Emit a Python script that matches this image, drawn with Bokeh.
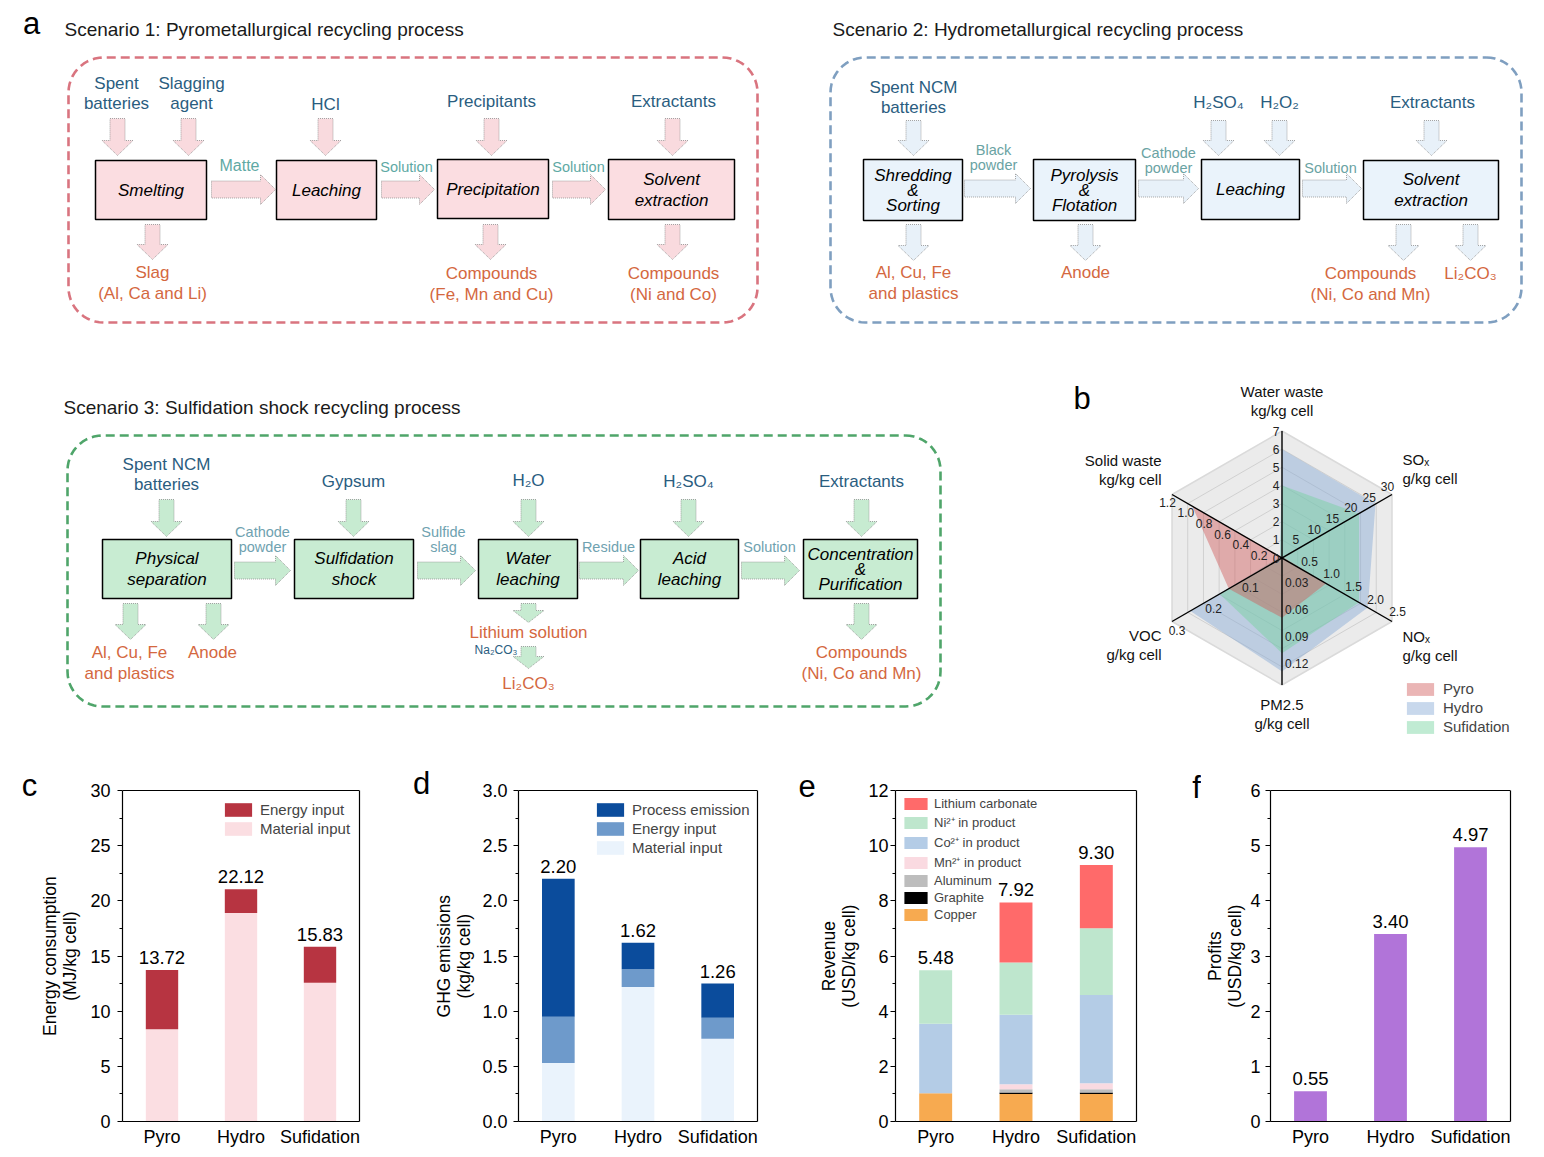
import numpy as np
from bokeh.plotting import figure
from bokeh.layouts import column, row
from bokeh.models import (Range1d, Legend, LegendItem, LinearAxis,
                          ColumnDataSource, FixedTicker, PrintfTickFormatter)
from bokeh.core.properties import value
from bokeh.embed import file_html
from bokeh.resources import INLINE

FONT = "Liberation Sans"

# ------------------------------------------------------------------ data
categories = ["Pyro", "Hydro", "Sufidation"]

# (c) energy consumption (MJ/kg cell)
energy_material = [8.37, 18.90, 12.57]
energy_energy = [5.35, 2.16, 3.26]
energy_labels = ["13.72", "22.12", "15.83"]

# (d) GHG emissions (kg/kg cell)
ghg_material = [0.53, 1.22, 0.75]
ghg_energy = [0.42, 0.16, 0.19]
ghg_process = [1.25, 0.24, 0.31]
ghg_labels = ["2.20", "1.62", "1.26"]

# (e) revenue (USD/kg cell)
rev_copper = [1.02, 1.00, 1.00]
rev_graphite = [0.00, 0.05, 0.05]
rev_aluminum = [0.00, 0.12, 0.12]
rev_mn = [0.00, 0.18, 0.22]
rev_co = [2.52, 2.52, 3.20]
rev_ni = [1.94, 1.89, 2.42]
rev_li = [0.00, 2.18, 2.29]
rev_labels = ["5.48", "7.92", "9.30"]

# (f) profits (USD/kg cell)
profits = [0.55, 3.40, 4.97]
profit_labels = ["0.55", "3.40", "4.97"]

# (b) radar
radar_names = ["Water waste", "SOₓ", "NOₓ", "PM2.5", "VOC", "Solid waste"]
radar_units = ["kg/kg cell", "g/kg cell", "g/kg cell", "g/kg cell", "g/kg cell", "kg/kg cell"]
radar_max = [7, 30, 2.5, 0.14, 0.3, 1.2]
radar_ticks = [[0, 1, 2, 3, 4, 5, 6, 7], [5, 10, 15, 20, 25, 30],
               [0.5, 1.0, 1.5, 2.0, 2.5], [0.03, 0.06, 0.09, 0.12],
               [0.1, 0.2, 0.3], [0.2, 0.4, 0.6, 0.8, 1.0, 1.2]]
radar_tick_text = [["0", "1", "2", "3", "4", "5", "6", "7"], ["5", "10", "15", "20", "25", "30"],
                   ["0.5", "1.0", "1.5", "2.0", "2.5"], ["0.03", "0.06", "0.09", "0.12"],
                   ["0.1", "0.2", "0.3"], ["0.2", "0.4", "0.6", "0.8", "1.0", "1.2"]]
env_pyro = [0.05, 0.3, 1.0, 0.066, 0.145, 0.98]
env_hydro = [6.0, 25.5, 1.95, 0.125, 0.25, 0.02]
env_sulf = [4.0, 21.0, 1.75, 0.105, 0.17, 0.02]

# (a) process diagrams - texts
s1_title = "Scenario 1: Pyrometallurgical recycling process"
s1_inputs = ["Spent\nbatteries", "Slagging\nagent", "HCl", "Precipitants", "Extractants"]
s1_steps = ["Smelting", "Leaching", "Precipitation", "Solvent\nextraction"]
s1_flows = ["Matte", "Solution", "Solution"]
s1_outputs = ["Slag\n(Al, Ca and Li)", "Compounds\n(Fe, Mn and Cu)", "Compounds\n(Ni and Co)"]

s2_title = "Scenario 2: Hydrometallurgical recycling process"
s2_inputs = ["Spent NCM\nbatteries", "H₂SO₄", "H₂O₂", "Extractants"]
s2_steps = ["Shredding\n&\nSorting", "Pyrolysis\n&\nFlotation", "Leaching", "Solvent\nextraction"]
s2_flows = ["Black\npowder", "Cathode\npowder", "Solution"]
s2_outputs = ["Al, Cu, Fe\nand plastics", "Anode", "Compounds\n(Ni, Co and Mn)", "Li₂CO₃"]

s3_title = "Scenario 3: Sulfidation shock recycling process"
s3_inputs = ["Spent NCM\nbatteries", "Gypsum", "H₂O", "H₂SO₄", "Extractants"]
s3_steps = ["Physical\nseparation", "Sulfidation\nshock", "Water\nleaching", "Acid\nleaching",
            "Concentration\n&\nPurification"]
s3_flows = ["Cathode\npowder", "Sulfide\nslag", "Residue", "Solution"]
s3_outputs = ["Al, Cu, Fe\nand plastics", "Anode", "Lithium solution", "Li₂CO₃",
              "Compounds\n(Ni, Co and Mn)"]
s3_side_input = "Na₂CO₃"

panel_letters = ["a", "b", "c", "d", "e", "f"]

# ------------------------------------------------------------------ layout (page pixels)
L1 = dict(frame=(68, 57, 757, 322), title=(64, 29),
          inputs=[(116, 103), (191, 103), (325, 104), (491, 101), (673, 101)],
          in_arrows=[(117, 118, 155), (188, 118, 155), (325, 118, 155), (491, 118, 155), (672, 118, 155)],
          boxes=[(95, 160, 206, 219), (276, 160, 376, 219), (437, 159, 548, 218), (608, 159, 734, 219)],
          flow_arrows=[(211, 275, 189), (381, 434, 189), (552, 605, 189)],
          flow_labels=[(239, 165, 16), (406, 166, 14.5), (578, 166, 14.5)],
          outputs=[(152, 272), (491, 273), (673, 273)],
          out_arrows=[(152, 224, 259), (490, 224, 259), (672, 224, 259)])
L2 = dict(frame=(830, 57, 1521, 322), title=(832, 29),
          inputs=[(913, 107), (1218, 102), (1279, 102), (1432, 102)],
          in_arrows=[(913, 120, 155), (1218, 120, 155), (1279, 120, 155), (1431, 120, 155)],
          boxes=[(863, 159, 962, 220), (1033, 159, 1135, 220), (1201, 159, 1299, 219), (1363, 160, 1498, 219)],
          flow_arrows=[(964, 1030, 188), (1138, 1198, 188), (1302, 1361, 188)],
          flow_labels=[(993, 164, 14.5), (1168, 167, 14.5), (1330, 167, 14.5)],
          outputs=[(913, 272), (1085, 272), (1370, 273), (1470, 273)],
          out_arrows=[(913, 224, 260), (1085, 224, 260), (1403, 224, 260), (1470, 224, 260)])
L3 = dict(frame=(67, 435, 940, 706), title=(63, 407),
          inputs=[(166, 484), (353, 481), (528, 480), (688, 481), (861, 481)],
          in_arrows=[(166, 499, 536), (353, 499, 536), (528, 499, 536), (688, 499, 536), (861, 499, 536)],
          boxes=[(102, 539, 231, 598), (294, 539, 413, 598), (478, 539, 577, 598), (640, 539, 738, 598),
                 (803, 539, 917, 598)],
          flow_arrows=[(234, 290, 570), (417, 475, 570), (579, 638, 570), (741, 799, 570)],
          flow_labels=[(262, 546, 14.5), (443, 546, 14.5), (608, 546, 14.5), (769, 546, 14.5)],
          outputs=[(129, 652), (212, 652), (528, 632), (528, 683), (861, 652)],
          out_arrows=[(130, 603, 639), (213, 603, 639), (528, 603, 622), (528, 646, 668), (861, 603, 639)])

IN_COLOR = "#2A5D7F"
OUT_COLOR = "#D4683F"

TOP_W, TOP_H = 1540, 758
BAR_H = 391
BAR_TOP, BAR_BOTTOM = 8, 28          # borders of the bottom-row figures
AXIS_PX = 331                        # pixel height of the drawn value axis
FRAME_PX = BAR_H - BAR_TOP - BAR_BOTTOM

# ------------------------------------------------------------------ top figure
top = figure(width=TOP_W, height=TOP_H, x_range=Range1d(0, TOP_W), y_range=Range1d(TOP_H, 0),
             output_backend="svg", toolbar_location=None, x_axis_location=None,
             y_axis_location=None, min_border=0)
top.outline_line_color = None
top.grid.visible = False


def txt(x, y, s, size, color="black", align="center", style="normal", fig=None):
    (fig or top).text(x=[x], y=[y], text=[s], text_font=value(FONT), text_font_size=f"{size}px",
                      text_color=color, text_align=align, text_baseline="middle",
                      text_font_style=style)


def mtext(x, y, s, size, color, lh, align="center", style="normal", anchor="first"):
    lines = s.split("\n")
    if anchor == "last":
        y = y - (len(lines) - 1) * lh
    elif anchor == "center":
        y = y - (len(lines) - 1) * lh / 2.0
    for i, ln in enumerate(lines):
        txt(x, y + i * lh, ln, size, color, align, style)


def down_arrow(xc, y0, y1, fill, shaft=15, head=31, headlen=15):
    hs, hh = shaft / 2, head / 2
    yh = y1 - headlen
    top.patch([xc - hs, xc + hs, xc + hs, xc + hh, xc, xc - hh, xc - hs],
              [y0, y0, yh, yh, y1, yh, yh], fill_color=fill, line_color="#8E8E8E",
              line_width=0.8, line_dash="1 1")


def right_arrow(x0, x1, yc, fill, shaft=17, head=30, headlen=15):
    hs, hh = shaft / 2, head / 2
    xh = x1 - headlen
    top.patch([x0, xh, xh, x1, xh, xh, x0],
              [yc - hs, yc - hs, yc - hh, yc, yc + hh, yc + hs, yc + hs], fill_color=fill,
              line_color="#8E8E8E", line_width=0.8, line_dash="1 1")


def rounded_frame(x0, y0, x1, y1, r, color):
    xs, ys = [], []
    for (ccx, ccy, a0) in [(x1 - r, y0 + r, -90), (x1 - r, y1 - r, 0), (x0 + r, y1 - r, 90), (x0 + r, y0 + r, 180)]:
        for a in np.linspace(a0, a0 + 90, 14):
            xs.append(ccx + r * np.cos(np.deg2rad(a)))
            ys.append(ccy + r * np.sin(np.deg2rad(a)))
    xs.append(xs[0]); ys.append(ys[0])
    top.line(xs, ys, line_color=color, line_width=2.6, line_dash="9 5")


def scenario(Lay, title, inputs, steps, flows, outputs, frame_color, box_fill, arrow_fill, flow_color):
    rounded_frame(*Lay["frame"], 35, frame_color)
    txt(Lay["title"][0], Lay["title"][1], title, 19, "#1a1a1a", align="left")
    for s, (x, y) in zip(inputs, Lay["inputs"]):
        mtext(x, y, s, 17, IN_COLOR, 20, anchor="last")
    for (x, y0, y1) in Lay["in_arrows"]:
        down_arrow(x, y0, y1, arrow_fill)
    for s, (x0, y0, x1, y1) in zip(steps, Lay["boxes"]):
        top.quad(left=x0, right=x1, top=y0, bottom=y1, fill_color=box_fill,
                 line_color="black", line_width=1.5)
        n = len(s.split("\n"))
        mtext((x0 + x1) / 2, (y0 + y1) / 2, s, 17, "black", 21 if n == 2 else 15,
              style="italic", anchor="center")
    for (x0, x1, yc) in Lay["flow_arrows"]:
        right_arrow(x0, x1, yc, arrow_fill)
    for s, (x, y, fs) in zip(flows, Lay["flow_labels"]):
        mtext(x, y, s, fs, flow_color, 14.5, anchor="last")
    for (x, y0, y1) in Lay["out_arrows"]:
        hl = 15 if (y1 - y0) > 30 else 12
        down_arrow(x, y0, y1, arrow_fill, headlen=hl)
    for s, (x, y) in zip(outputs, Lay["outputs"]):
        mtext(x, y, s, 17, OUT_COLOR, 20.5, anchor="first")


scenario(L1, s1_title, s1_inputs, s1_steps, s1_flows, s1_outputs,
         "#D9747F", "#FBDDE1", "#F9DADE", "#5EA9A4")
scenario(L2, s2_title, s2_inputs, s2_steps, s2_flows, s2_outputs,
         "#7F9FC0", "#EAF3FB", "#E8F1F9", "#6AA3A3")
scenario(L3, s3_title, s3_inputs, s3_steps, s3_flows, s3_outputs,
         "#4FA56A", "#C8ECD2", "#C7EBD1", "#6FA2B0")
txt(517, 649, s3_side_input, 12, IN_COLOR, align="right")

# panel letters (top)
txt(31, 22.5, panel_letters[0], 31, "black")
txt(1081.5, 397.5, panel_letters[1], 31, "black")

# ------------------------------------------------------------------ radar (b)
cxr, cyr, R = 1281.5, 557.5, 127.0
ang = np.deg2rad([90, 30, -30, -90, -150, 150])
ux, uy = np.cos(ang), -np.sin(ang)


def hexagon(frac):
    return list(cxr + R * frac * ux), list(cyr + R * frac * uy)


hx, hy = hexagon(1.0)
top.patch(hx, hy, fill_color="#EBEBEB", line_color="#DADADA", line_width=1.5)
rx, ry = [], []
for i in range(1, 7):
    a_, b_ = hexagon(i / 7)
    rx.append(a_ + [a_[0]]); ry.append(b_ + [b_[0]])
top.multi_line(rx, ry, line_color="#D0D0D0", line_width=1)


def env_poly(vals):
    fr = np.array(vals, dtype=float) / np.array(radar_max, dtype=float)
    return list(cxr + R * fr * ux), list(cyr + R * fr * uy)


radar_colors = ["#D05A5A", "#85A8D5", "#73D39D"]
polys = {}
for name, vals, col in [("Hydro", env_hydro, radar_colors[1]), ("Sufidation", env_sulf, radar_colors[2]),
                        ("Pyro", env_pyro, radar_colors[0])]:
    px, py = env_poly(vals)
    polys[name] = top.patch(px, py, fill_color=col, fill_alpha=0.45, line_color=None)

for k in range(3):
    top.line([cxr + R * ux[k], cxr + R * ux[k + 3]], [cyr + R * uy[k], cyr + R * uy[k + 3]],
             line_color="black", line_width=1.4)

# radar tick labels
for k in range(6):
    for t, s in zip(radar_ticks[k], radar_tick_text[k]):
        d = R * t / radar_max[k]
        px, py = cxr + d * ux[k], cyr + d * uy[k]
        if k == 0:
            txt(cxr - 2.5, py, s, 12, "#222222", align="right")
        elif k == 3:
            txt(cxr + 3, py - 3, s, 12, "#222222", align="left")
        else:
            perp = {1: (-0.5, -0.866), 2: (0.5, -0.866), 4: (0.5, 0.866), 5: (-0.5, 0.866)}[k]
            off = {1: 9, 2: 11, 4: 10, 5: 9}[k]
            txt(px + perp[0] * off, py + perp[1] * off, s, 12, "#222222")

# radar axis titles
rt_pos = [(1281.5, 391, "center"), (1402, 459, "left"), (1402, 636, "left"),
          (1281.5, 704, "center"), (1161, 635, "right"), (1161, 460, "right")]
for name, unit, (x, y, al) in zip(radar_names, radar_units, rt_pos):
    txt(x, y, name, 15, "#111111", align=al)
    txt(x, y + 19, unit, 15, "#111111", align=al)

rleg = Legend(items=[LegendItem(label="Pyro", renderers=[polys["Pyro"]]),
                     LegendItem(label="Hydro", renderers=[polys["Hydro"]]),
                     LegendItem(label="Sufidation", renderers=[polys["Sufidation"]])],
              location=(1403, 23), glyph_width=34, glyph_height=16, label_height=16, spacing=2,
              padding=0, margin=0, label_standoff=6, label_text_font=FONT,
              label_text_font_size="15px", border_line_color=None, background_fill_alpha=0)
top.add_layout(rleg)

# ------------------------------------------------------------------ bar charts
xpos = [i + 0.5 for i in range(len(categories))]
PAD = "\u00a0" * 5   # keeps the rotated axis title centred on the drawn value axis


def strip(width, letter, x, y):
    # narrow panel holding the panel letter; its frame matches the bar frames
    s = figure(width=width, height=BAR_H, x_range=Range1d(0, width),
               y_range=Range1d(BAR_H - BAR_BOTTOM, BAR_TOP),
               output_backend="svg", toolbar_location=None, x_axis_location=None,
               y_axis_location=None, min_border_left=0, min_border_right=0,
               min_border_top=BAR_TOP, min_border_bottom=BAR_BOTTOM)
    s.outline_line_color = None
    s.grid.visible = False
    txt(x, y, letter, 31, "black", fig=s)
    return s


def bar_fig(width, left, right, ymax, major, minor, ylabel, lab_standoff, tick_standoff):
    yext = ymax * FRAME_PX / AXIS_PX
    p = figure(width=width, height=BAR_H, x_range=Range1d(0, len(categories)),
               y_range=Range1d(0, yext), output_backend="svg", toolbar_location=None,
               min_border_left=left, min_border_right=right, min_border_top=BAR_TOP,
               min_border_bottom=BAR_BOTTOM)
    p.xgrid.visible = False
    p.ygrid.visible = False
    p.outline_line_color = None
    p.yaxis.ticker = FixedTicker(ticks=major, minor_ticks=minor)
    p.yaxis.bounds = (0, ymax)
    p.xaxis.ticker = FixedTicker(ticks=xpos, minor_ticks=[])
    p.xaxis.major_label_overrides = {x: c for x, c in zip(xpos, categories)}
    for ax in (p.xaxis[0], p.yaxis[0]):
        ax.axis_line_color = "black"
        ax.axis_line_width = 1.2
        ax.major_label_text_font = FONT
        ax.major_label_text_font_size = "18px"
        ax.major_label_text_color = "black"
    p.yaxis.major_tick_out = 5
    p.yaxis.major_tick_in = 0
    p.yaxis.minor_tick_out = 3
    p.yaxis.minor_tick_in = 0
    p.yaxis.major_tick_line_width = 1.2
    p.yaxis.major_label_standoff = tick_standoff
    p.yaxis.axis_label = "\n".join(ln + PAD for ln in ylabel.split("\n"))
    p.yaxis.axis_label_text_font = FONT
    p.yaxis.axis_label_text_font_size = "17.5px"
    p.yaxis.axis_label_text_font_style = "normal"
    p.yaxis.axis_label_text_color = "black"
    p.yaxis.axis_label_text_line_height = 1.0
    p.yaxis.axis_label_standoff = lab_standoff
    p.xaxis.major_tick_line_color = None
    p.xaxis.minor_tick_line_color = None
    p.xaxis.major_tick_out = 0
    p.xaxis.major_tick_in = 0
    p.xaxis.minor_tick_out = 0
    p.xaxis.major_label_standoff = 5
    # right edge of the plot box
    rax = LinearAxis(bounds=(0, ymax), ticker=FixedTicker(ticks=[], minor_ticks=[]),
                     axis_line_color="black", axis_line_width=1.2,
                     major_tick_line_color=None, minor_tick_line_color=None,
                     major_label_text_font_size="0px", major_label_standoff=0)
    p.add_layout(rax, "right")
    # top edge of the plot box
    p.line(x=[0, len(categories)], y=[ymax, ymax], line_color="black", line_width=1.2)
    return p


def value_labels(p, tops, labels):
    p.text(x=xpos, y=tops, text=labels, text_font=value(FONT), text_font_size="18.5px",
           text_align="center", text_baseline="bottom", text_color="black", y_offset=-6)


def make_legend(p, items, vx, vy, gw, gh, fs, standoff, spacing):
    leg = Legend(items=[LegendItem(label=l, renderers=[r]) for l, r in items], location=(vx, vy),
                 glyph_width=gw, glyph_height=gh, label_height=gh, spacing=spacing, padding=0,
                 margin=0, label_standoff=standoff, label_text_font=FONT,
                 label_text_font_size=f"{fs}px", border_line_color=None, background_fill_alpha=0)
    p.add_layout(leg)


# (c)
sc = strip(37, panel_letters[2], 29, 26.8)
pc = bar_fig(358, 81, 36, 30, [0, 5, 10, 15, 20, 25, 30], [2.5, 7.5, 12.5, 17.5, 22.5, 27.5],
             "Energy consumption\n(MJ/kg cell)", 7, 7)
src_c = ColumnDataSource(dict(x=xpos, material=energy_material, energy=energy_energy))
rc = pc.vbar_stack(["material", "energy"], x="x", width=0.41, source=src_c,
                   fill_color=["#FBDEE2", "#B73441"], line_color=None)
value_labels(pc, [a + b for a, b in zip(energy_material, energy_energy)], energy_labels)
make_legend(pc, [("Energy input", rc[1]), ("Material input", rc[0])], 99, 284, 34, 17, 15, 5, 2)

# (d)
sd = strip(36, panel_letters[3], 26, 24.8)
pd_ = bar_fig(346, 84, 20, 3.0, [0, 0.5, 1.0, 1.5, 2.0, 2.5, 3.0],
              [0.25, 0.75, 1.25, 1.75, 2.25, 2.75], "GHG emissions\n(kg/kg cell)", 5, 6)
pd_.yaxis[0].formatter = PrintfTickFormatter(format="%.1f")
src_d = ColumnDataSource(dict(x=xpos, material=ghg_material, energy=ghg_energy, process=ghg_process))
rd = pd_.vbar_stack(["material", "energy", "process"], x="x", width=0.41, source=src_d,
                    fill_color=["#EAF3FC", "#6E9ACB", "#0B4C9C"], line_color=None)
value_labels(pd_, [a + b + c for a, b, c in zip(ghg_material, ghg_energy, ghg_process)], ghg_labels)
make_legend(pd_, [("Process emission", rd[2]), ("Energy input", rd[1]), ("Material input", rd[0])],
            75, 265, 34, 17, 15, 5, 2)

# (e)
se = strip(39, panel_letters[4], 29.7, 27.3)
pe = bar_fig(339, 79, 19, 12, [0, 2, 4, 6, 8, 10, 12], [1, 3, 5, 7, 9, 11],
             "Revenue\n(USD/kg cell)", 6, 2)
src_e = ColumnDataSource(dict(x=xpos, copper=rev_copper, graphite=rev_graphite,
                              aluminum=rev_aluminum, mn=rev_mn, co=rev_co, ni=rev_ni, li=rev_li))
re_ = pe.vbar_stack(["copper", "graphite", "aluminum", "mn", "co", "ni", "li"], x="x", width=0.41,
                    source=src_e,
                    fill_color=["#F7AA50", "#000000", "#BDBDBD", "#FADAE1", "#B4CCE6", "#BEE6CD", "#FF6A6A"],
                    line_color=None)
rev_tops = [sum(v) for v in zip(rev_copper, rev_graphite, rev_aluminum, rev_mn, rev_co, rev_ni, rev_li)]
value_labels(pe, rev_tops, rev_labels)
make_legend(pe, [("Lithium carbonate", re_[6]), ("Ni²⁺ in product", re_[5]),
                 ("Co²⁺ in product", re_[4]), ("Mn²⁺ in product", re_[3]),
                 ("Aluminum", re_[2]), ("Graphite", re_[1]), ("Copper", re_[0])],
            6, 199, 29, 15, 13, 4, 2)

# (f)
sf = strip(46, panel_letters[5], 41, 28.7)
pf = bar_fig(339, 69, 30, 6, [0, 1, 2, 3, 4, 5, 6], [0.5, 1.5, 2.5, 3.5, 4.5, 5.5],
             "Profits\n(USD/kg cell)", 2, 5)
src_f = ColumnDataSource(dict(x=xpos, profit=profits))
pf.vbar(x="x", top="profit", width=0.41, source=src_f, fill_color="#B174D9", line_color=None)
value_labels(pf, profits, profit_labels)

layout = column(top, row(sc, pc, sd, pd_, se, pe, sf, pf, spacing=0), spacing=0)
open("out.html", "w").write(file_html(layout, INLINE))
